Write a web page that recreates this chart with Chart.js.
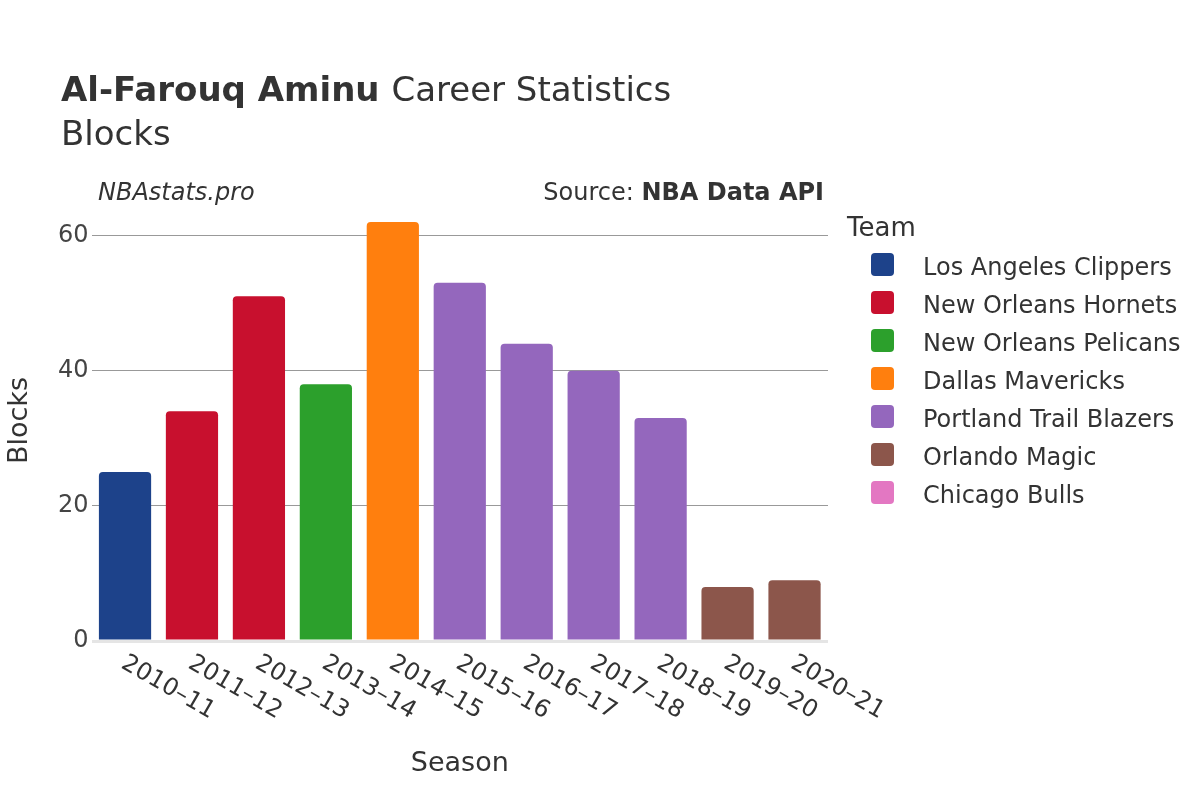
<!DOCTYPE html>
<html>
<head>
<meta charset="utf-8">
<script src="https://cdn.jsdelivr.net/npm/chart.js@4"></script>
<style>
  html, body { margin: 0; padding: 0; background: #fff; }
  #wrap { width: 1200px; height: 800px; }
</style>
</head>
<body>
<div id="wrap"><canvas id="blocks"></canvas></div>
<script>
const seasons = ["2010–11", "2011–12", "2012–13", "2013–14", "2014–15", "2015–16",
  "2016–17", "2017–18", "2018–19", "2019–20", "2020–21"];

const teamNames = ["Los Angeles Clippers", "New Orleans Hornets", "New Orleans Pelicans",
  "Dallas Mavericks", "Portland Trail Blazers", "Orlando Magic", "Chicago Bulls"];
const teamColors = ["#1d428a", "#c8102e", "#2ca02c", "#ff7f0e", "#9467bd", "#8c564b", "#e377c2"];

// blocks per season, one array per team (null = didn't play there)
const clippers  = [25, null, null, null, null, null, null, null, null, null, null];
const hornets   = [null, 34, 51, null, null, null, null, null, null, null, null];
const pelicans  = [null, null, null, 38, null, null, null, null, null, null, null];
const mavericks = [null, null, null, null, 62, null, null, null, null, null, null];
const blazers   = [null, null, null, null, null, 53, 44, 40, 33, null, null];
const magic     = [null, null, null, null, null, null, null, null, null, 8, 9];
const bulls     = [null, null, null, null, null, null, null, null, null, null, 0];

const teamBlocks = [clippers, hornets, pelicans, mavericks, blazers, magic, bulls];
const yTicks = [0, 20, 40, 60];

const FONT = "'DejaVu Sans', sans-serif";
const TXT = "#333333";

const datasets = teamNames.map((name, i) => ({
  label: name,
  data: teamBlocks[i],
  backgroundColor: teamColors[i],
  borderRadius: 4,
  barPercentage: 0.78,
  categoryPercentage: 1.0,
}));

// titles, rotated season labels, axis titles and legend
const decorations = {
  id: "decorations",
  afterDraw(chart) {
    const ctx = chart.ctx;
    const area = chart.chartArea;
    const xs = chart.scales.x;
    ctx.save();
    ctx.fillStyle = TXT;
    ctx.textBaseline = "alphabetic";

    // title
    ctx.textAlign = "left";
    ctx.font = "bold 34px " + FONT;
    const bold = "Al-Farouq Aminu";
    ctx.fillText(bold, 61, 101);
    const bw = ctx.measureText(bold + " ").width;
    ctx.font = "34px " + FONT;
    ctx.fillText("Career Statistics", 61 + bw, 101);
    ctx.fillText("Blocks", 61, 145);

    ctx.font = "italic 24px " + FONT;
    ctx.fillText("NBAstats.pro", 98, 200);

    ctx.textAlign = "right";
    ctx.font = "bold 24px " + FONT;
    const src = "NBA Data API";
    ctx.fillText(src, 824, 200);
    const sw = ctx.measureText(src).width;
    ctx.font = "24px " + FONT;
    ctx.fillText("Source: ", 824 - sw, 200);

    // season tick labels, rotated 30deg clockwise
    ctx.font = "24px " + FONT;
    ctx.textAlign = "left";
    seasons.forEach((s, i) => {
      const x = xs.getPixelForValue(i);
      ctx.save();
      ctx.translate(x - 5, 667);
      ctx.rotate(Math.PI / 6);
      ctx.fillText(s, 0, 0);
      ctx.restore();
    });

    // axis titles
    ctx.font = "27px " + FONT;
    ctx.textAlign = "center";
    ctx.fillText("Season", (area.left + area.right) / 2, 771);
    ctx.save();
    ctx.translate(27, (area.top + area.bottom) / 2);
    ctx.rotate(-Math.PI / 2);
    ctx.fillText("Blocks", 0, 0);
    ctx.restore();

    // legend
    ctx.textAlign = "left";
    ctx.font = "26px " + FONT;
    ctx.fillText("Team", 847, 236);
    ctx.font = "24px " + FONT;
    chart.data.datasets.forEach((ds, i) => {
      const y = 253 + i * 38;
      ctx.fillStyle = ds.backgroundColor;
      ctx.beginPath();
      ctx.roundRect(871, y, 23, 23, 4);
      ctx.fill();
      ctx.fillStyle = TXT;
      ctx.fillText(ds.label, 923, y + 22);
    });
    ctx.restore();
  }
};

new Chart(document.getElementById("blocks"), {
  type: "bar",
  data: { labels: seasons, datasets: datasets },
  plugins: [decorations],
  options: {
    responsive: true,
    maintainAspectRatio: false,
    animation: false,
    layout: { padding: { left: 55, right: 372, top: 200, bottom: 151 } },
    plugins: {
      legend: { display: false },
      tooltip: { enabled: false },
    },
    scales: {
      x: {
        stacked: true,
        grid: { display: false },
        border: { display: false },
        ticks: { display: false },
      },
      y: {
        stacked: true,
        min: 0,
        max: 65.26,
        afterBuildTicks: (scale) => {
          scale.ticks = yTicks.map((v) => ({ value: v }));
        },
        border: { display: false },
        grid: {
          drawTicks: false,
          color: (c) => (c.tick && c.tick.value === 0 ? "#e5e5e5" : "#999999"),
          lineWidth: (c) => (c.tick && c.tick.value === 0 ? 3 : 1),
        },
        ticks: {
          padding: 3,
          color: "#444444",
          font: { family: FONT, size: 24 },
        },
      },
    },
  },
});
</script>
</body>
</html>
